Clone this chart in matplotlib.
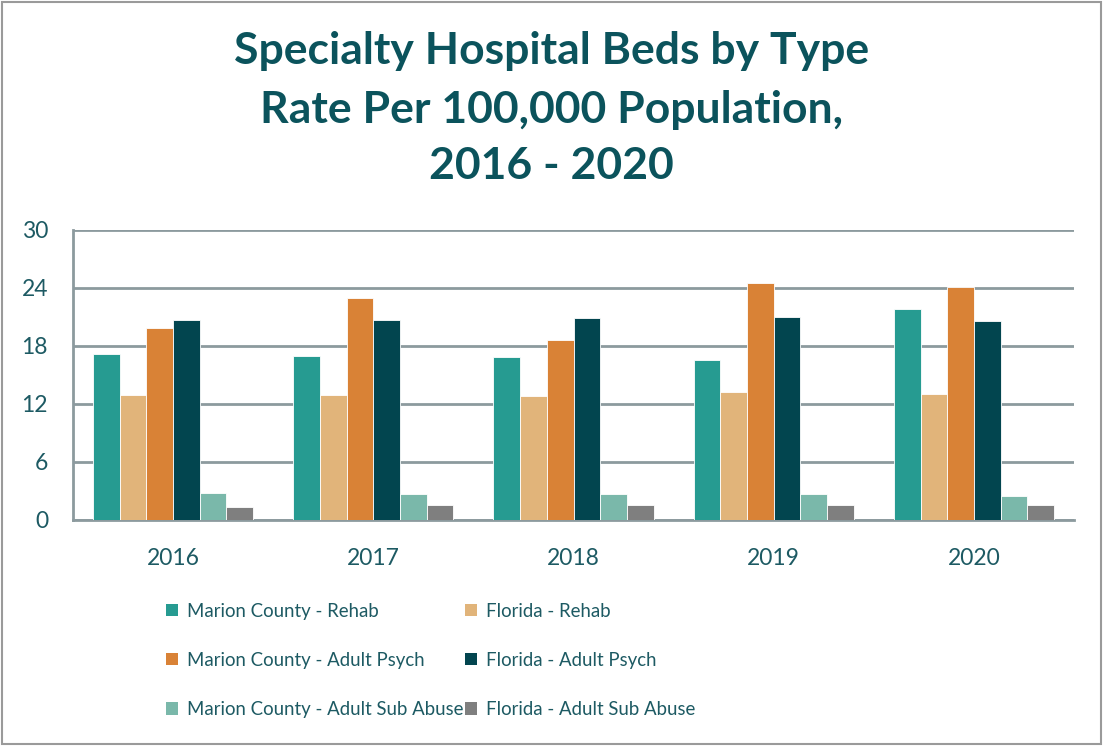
import matplotlib
matplotlib.use("Agg")
import matplotlib.pyplot as plt
import numpy as np
from matplotlib.patches import Rectangle, Patch

years = ["2016", "2017", "2018", "2019", "2020"]
series_names = [
    "Marion County - Rehab",
    "Florida - Rehab",
    "Marion County - Adult Psych",
    "Florida - Adult Psych",
    "Marion County - Adult Sub Abuse",
    "Florida - Adult Sub Abuse",
]
marion_rehab = [17.2, 17.0, 16.9, 16.6, 21.8]
florida_rehab = [12.9, 12.9, 12.8, 13.2, 13.0]
marion_psych = [19.9, 23.0, 18.6, 24.5, 24.1]
florida_psych = [20.7, 20.7, 20.9, 21.0, 20.6]
marion_sub = [2.8, 2.65, 2.65, 2.65, 2.5]
florida_sub = [1.35, 1.6, 1.6, 1.6, 1.6]
yticks = [0, 6, 12, 18, 24, 30]

colors = ["#269b91", "#e1b47a", "#d98236", "#02454f", "#7ab8aa", "#7f7f7f"]
values = [marion_rehab, florida_rehab, marion_psych, florida_psych, marion_sub, florida_sub]

text_color = "#1d5a63"
title_color = "#0b535c"
grid_color = "#8c9a9e"
font = "Lato"

fig = plt.figure(figsize=(11.03, 7.46), dpi=100)
ax = fig.add_axes([73/1103, 1-520/746, (1074-73)/1103, 290/746])

x = np.arange(len(years))
w = 0.8 / 6
for i, (vals, c) in enumerate(zip(values, colors)):
    ax.bar(x - 0.4 + w*(i+0.5), vals, width=w, color=c, edgecolor="white", linewidth=0.6,
           label=series_names[i], zorder=3)

ax.set_xlim(-0.5, 4.5)
ax.set_ylim(0, 30)
ax.set_yticks(yticks)
ax.set_yticklabels([str(t) for t in yticks], fontsize=16.5, color=text_color, family=font)
ax.set_xticks(x)
ax.set_xticklabels(years, fontsize=16.5, color=text_color, family=font)
ax.tick_params(axis="both", length=0)
ax.tick_params(axis="y", pad=18)
ax.tick_params(axis="x", pad=20)
ax.grid(axis="y", color=grid_color, linewidth=2, zorder=0)
for s in ["top", "right"]:
    ax.spines[s].set_visible(False)
ax.spines["left"].set_color(grid_color)
ax.spines["left"].set_linewidth(2)
ax.spines["bottom"].set_color(grid_color)
ax.spines["bottom"].set_linewidth(2)

title_lines = ["Specialty Hospital Beds by Type", "Rate Per 100,000 Population,", "2016 - 2020"]
for line, ypix in zip(title_lines, [51, 110, 166]):
    fig.text(0.5, 1-ypix/746, line, ha="center", va="center",
             fontsize=32, fontweight="bold", color=title_color, family=font)

# row-wise legend order for a 2-column legend
order = [0, 2, 4, 1, 3, 5]
handles = [Patch(facecolor=colors[i], edgecolor="none") for i in order]
labels = [series_names[i] for i in order]
leg = fig.legend(handles, labels, loc="upper left", bbox_to_anchor=(166/1103, 1-603/746),
                 ncol=2, frameon=False,
                 prop={"family": font, "size": 13.4},
                 handlelength=0.62, handleheight=0.62, handletextpad=0.5,
                 columnspacing=0.1, labelspacing=1.72, borderpad=0, borderaxespad=0)
for t in leg.get_texts():
    t.set_color(text_color)

fig.patches.append(Rectangle((0.002, 0.003), 0.996, 0.994, transform=fig.transFigure,
                             fill=False, edgecolor="#9a9a9a", linewidth=1.5))

fig.savefig("out.png", dpi=100)
